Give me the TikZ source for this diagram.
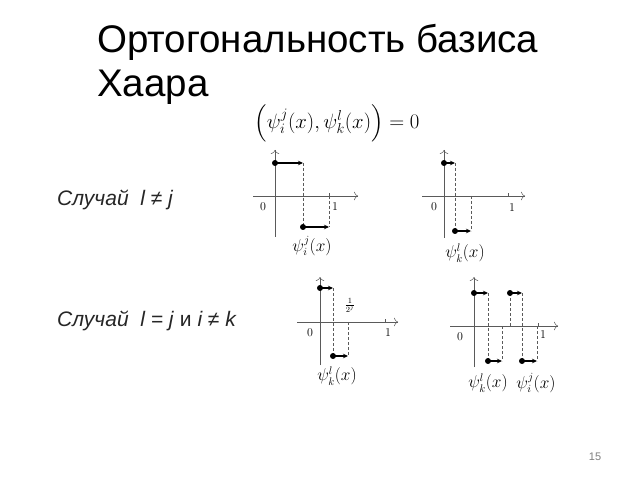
\documentclass[tikz,border=0pt]{standalone}
\usepackage{amsmath}
\usepackage{fontspec}
\setmainfont{Liberation Sans}
\usetikzlibrary{arrows.meta}
\definecolor{axisgray}{HTML}{5A5A5A}
\definecolor{pagegray}{HTML}{7F7F7F}

\begin{document}
\begin{tikzpicture}[x=1pt, y=1pt,
  axisline/.style={-{To[length=4pt]}, line width=0.5pt, axisgray},
  guide/.style={densely dashed, line width=0.4pt, axisgray},
  jump/.style={-{Stealth[length=5pt, width=4.5pt]}, line width=1.5pt},
  dot/.style={circle, fill, inner sep=0pt, minimum size=6pt},
  lbl/.style={inner sep=0pt, font=\fontsize{16}{18}\selectfont},
  num/.style={inner sep=0pt, font=\fontsize{12.5}{14}\selectfont},
  casetext/.style={anchor=base west, inner sep=0pt, font=\fontsize{21}{24}\selectfont, black!85}]
\fill[white] (0,0) rectangle (640,480);
\useasboundingbox (0,0) rectangle (640,480);

% Title and formula
\node[anchor=base west, inner sep=0pt, font=\fontsize{38.5}{44}\selectfont] (title1) at (97,427) {Ортогональность базиса};
\node[anchor=base west, inner sep=0pt, font=\fontsize{38.5}{44}\selectfont] (title2) at (97,383) {Хаара};
\node[font=\fontsize{21}{24}\selectfont] (formula) at (337,357) {$\Bigl(\psi_i^j(x),\psi_k^l(x)\Bigr)=0$};

\node[casetext] (case1) at (57,274) {\textit{Случай\ \ l ≠ j}};
\node[casetext] (case2) at (57,154) {\textit{Случай\ \ l = j} и \textit{i ≠ k}};

% case l != j, left plot
\begin{scope}[shift={(275,284)}]
\draw[axisline] (-22,0) -- (83,0);
\draw[axisline] (0,-41) -- (0,46);
\draw[guide] (28,33) -- (28,-31);
\draw[guide] (54,0) -- (54,-31);
\draw[axisgray] (54,0) -- (54,3);
\node[dot] (a1) at (0,33) {};
\node[dot] (a2) at (28,-31) {};
\coordinate (a1e) at (28,33);
\coordinate (a2e) at (54,-31);
\draw[jump] (a1.center) -- (a1e);
\draw[jump] (a2.center) -- (a2e);
\node[num] (a0) at (-12,-11) {$0$};
\node[num] (aone) at (60,-11) {$1$};
\node[lbl] (alabel) at (37,-50) {$\psi_i^j(x)$};
\end{scope}

% case l != j, right plot
\begin{scope}[shift={(444,284)}]
\draw[axisline] (-22,0) -- (81,0);
\draw[axisline] (0,-42) -- (0,46);
\draw[guide] (11,33) -- (11,-35);
\draw[guide] (27,0) -- (27,-35);
\draw[axisgray] (64,0) -- (64,3);
\node[dot] (b1) at (0,33) {};
\node[dot] (b2) at (11,-35) {};
\coordinate (b1e) at (11,33);
\coordinate (b2e) at (27,-35);
\draw[jump] (b1.center) -- (b1e);
\draw[jump] (b2.center) -- (b2e);
\node[num] (b0) at (-10,-11) {$0$};
\node[num] (bone) at (68,-12) {$1$};
\node[lbl] (blabel) at (21,-57) {$\psi_k^l(x)$};
\end{scope}

% case l = j, left plot
\begin{scope}[shift={(320,158)}]
\draw[axisline] (-23,0) -- (78,0);
\draw[axisline] (0,-43) -- (0,45);
\draw[guide] (13,34) -- (13,-34);
\draw[guide] (28,0) -- (28,-34);
\draw[axisgray] (65,0) -- (65,3);
\node[dot] (c1) at (0,34) {};
\node[dot] (c2) at (13,-34) {};
\coordinate (c1e) at (13,34);
\coordinate (c2e) at (28,-34);
\draw[jump] (c1.center) -- (c1e);
\draw[jump] (c2.center) -- (c2e);
\node[num] (c0) at (-10,-11) {$0$};
\node[num] (cone) at (68,-11) {$1$};
\node[inner sep=0pt, font=\fontsize{12}{13}\selectfont] (chalf) at (30,17) {$\frac{1}{2^j}$};
\node[lbl] (clabel) at (17,-54) {$\psi_k^l(x)$};
\end{scope}

% case l = j, right plot
\begin{scope}[shift={(474,154)}]
\draw[axisline] (-24,0) -- (84,0);
\draw[axisline] (0,-41) -- (0,49);
\draw[guide] (14,33) -- (14,-35);
\draw[guide] (28,0) -- (28,-35);
\draw[guide] (36,33) -- (36,0);
\draw[guide] (48,33) -- (48,-35);
\draw[guide] (63,0) -- (63,-35);
\draw[axisgray] (64,0) -- (64,3);
\node[dot] (d1) at (0,33) {};
\node[dot] (d2) at (14,-35) {};
\node[dot] (d3) at (36,33) {};
\node[dot] (d4) at (48,-35) {};
\coordinate (d1e) at (14,33);
\coordinate (d2e) at (28,-35);
\coordinate (d3e) at (48,33);
\coordinate (d4e) at (63,-35);
\draw[jump] (d1.center) -- (d1e);
\draw[jump] (d2.center) -- (d2e);
\draw[jump] (d3.center) -- (d3e);
\draw[jump] (d4.center) -- (d4e);
\node[num] (d0) at (-14,-11) {$0$};
\node[num] (done) at (69,-9) {$1$};
\node[lbl] (dlabel1) at (14,-57) {$\psi_k^l(x)$};
\node[lbl] (dlabel2) at (62,-57) {$\psi_i^j(x)$};
\end{scope}

\node[font=\fontsize{11}{12}\selectfont, pagegray] (page) at (595,23) {15};
\end{tikzpicture}
\end{document}
